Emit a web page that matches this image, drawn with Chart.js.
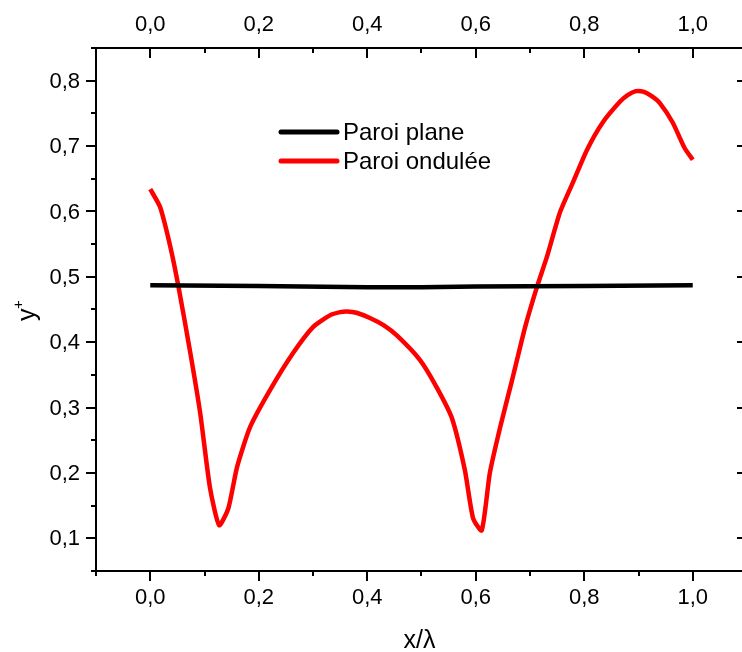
<!DOCTYPE html>
<html>
<head>
<meta charset="utf-8">
<script src="https://cdn.jsdelivr.net/npm/chart.js@4.4.0/dist/chart.umd.min.js"></script>
<style>
  html, body { margin: 0; padding: 0; background: #fff; overflow: hidden; }
  canvas { display: block; }
</style>
</head>
<body>
<canvas id="yplusChart" width="760" height="652"></canvas>
<script>
// Data
const seriesNames = ['Paroi plane', 'Paroi ondulée'];

const planeX = [0.0, 0.2, 0.4, 0.5, 0.6, 0.8, 1.0];
const planeY = [0.487, 0.486, 0.484, 0.484, 0.485, 0.486, 0.487];

const waveX = [0.000, 0.018, 0.037, 0.052, 0.074, 0.092, 0.110, 0.127, 0.144, 0.160,
               0.184, 0.221, 0.263, 0.300, 0.331, 0.350, 0.363, 0.380, 0.405, 0.430,
               0.455, 0.497, 0.528, 0.556, 0.580, 0.595, 0.611, 0.626, 0.645, 0.667,
               0.691, 0.713, 0.731, 0.755, 0.779, 0.805, 0.834, 0.866, 0.880, 0.895,
               0.910, 0.925, 0.939, 0.963, 0.985, 1.000];
const waveY = [0.634, 0.607, 0.546, 0.485, 0.383, 0.292, 0.178, 0.120, 0.146, 0.209,
               0.270, 0.327, 0.383, 0.423, 0.441, 0.446, 0.447, 0.445, 0.437, 0.426,
               0.410, 0.373, 0.331, 0.284, 0.204, 0.131, 0.112, 0.200, 0.270, 0.342,
               0.423, 0.485, 0.530, 0.598, 0.644, 0.694, 0.736, 0.768, 0.778, 0.784,
               0.783, 0.776, 0.766, 0.736, 0.697, 0.679];

// Axis ticks
const xMajorTicks = [0.0, 0.2, 0.4, 0.6, 0.8, 1.0];
const xMinorTicks = [-0.1, 0.1, 0.3, 0.5, 0.7, 0.9, 1.1];
const yMajorTicks = [0.1, 0.2, 0.3, 0.4, 0.5, 0.6, 0.7, 0.8];
const yMinorTicks = [0.05, 0.15, 0.25, 0.35, 0.45, 0.55, 0.65, 0.75, 0.85];

const FONT = '"Liberation Sans", Arial, sans-serif';
const fmt = v => v.toFixed(1).replace('.', ',');

const toPoints = (xs, ys) => xs.map((x, i) => ({ x: x, y: ys[i] }));

// Draws the Origin-style frame, ticks, labels, titles and legend
const originFrame = {
    id: 'originFrame',
    afterDraw(chart) {
        const c = chart.ctx;
        const a = chart.chartArea;
        const xs = chart.scales.x;
        const ys = chart.scales.y;
        c.save();
        c.strokeStyle = '#000';
        c.fillStyle = '#000';
        c.lineWidth = 2;
        c.lineCap = 'butt';

        // box
        c.beginPath();
        c.moveTo(a.left, a.top); c.lineTo(a.right, a.top);
        c.lineTo(a.right, a.bottom); c.lineTo(a.left, a.bottom);
        c.closePath();
        c.stroke();

        const major = 10, minor = 5;
        c.beginPath();
        xMajorTicks.concat(xMinorTicks).forEach(v => {
            const len = xMajorTicks.includes(v) ? major : minor;
            const px = Math.round(xs.getPixelForValue(v));
            c.moveTo(px, a.bottom); c.lineTo(px, a.bottom + len);
            c.moveTo(px, a.top); c.lineTo(px, a.top + len);
        });
        yMajorTicks.concat(yMinorTicks).forEach(v => {
            const len = yMajorTicks.includes(v) ? major : minor;
            const py = Math.round(ys.getPixelForValue(v));
            c.moveTo(a.left, py); c.lineTo(a.left - len, py);
            c.moveTo(a.right, py); c.lineTo(a.right - len, py);
        });
        c.stroke();

        // tick labels
        c.font = '22px ' + FONT;
        c.textAlign = 'center';
        c.textBaseline = 'middle';
        xMajorTicks.forEach(v => {
            const px = xs.getPixelForValue(v);
            c.fillText(fmt(v), px, a.bottom + 27);
            c.fillText(fmt(v), px, a.top - 23);
        });
        c.textAlign = 'right';
        yMajorTicks.forEach(v => {
            c.fillText(fmt(v), a.left - 16, ys.getPixelForValue(v) + 1);
        });

        // axis titles
        c.textAlign = 'center';
        c.textBaseline = 'alphabetic';
        c.font = '25px ' + FONT;
        c.fillText('x/\u03bb', (a.left + a.right) / 2 - 2, 648);

        c.save();
        c.translate(35, 321);
        c.rotate(-Math.PI / 2);
        c.textAlign = 'left';
        c.font = '25px ' + FONT;
        c.fillText('y', 0, 0);
        c.font = '15px ' + FONT;
        c.fillText('+', 12, -12);
        c.restore();

        // legend
        c.font = '24px ' + FONT;
        c.textAlign = 'left';
        c.textBaseline = 'middle';
        c.lineWidth = 5;
        c.lineCap = 'round';
        chart.data.datasets.forEach((ds, i) => {
            const ly = 132 + i * 29;
            c.strokeStyle = ds.borderColor;
            c.beginPath();
            c.moveTo(281, ly); c.lineTo(337, ly);
            c.stroke();
            c.fillText(ds.label, 343, ly + 1);
        });
        c.restore();
    }
};

const ctx = document.getElementById('yplusChart').getContext('2d');
const yplusChart = new Chart(ctx, {
    type: 'line',
    data: {
        datasets: [{
            label: seriesNames[0],
            data: toPoints(planeX, planeY),
            borderColor: '#000000',
            borderWidth: 4.5,
            pointRadius: 0,
            fill: false
        }, {
            label: seriesNames[1],
            data: toPoints(waveX, waveY),
            borderColor: '#ff0000',
            borderWidth: 4.5,
            pointRadius: 0,
            tension: 0.2,
            borderJoinStyle: 'round',
            fill: false
        }]
    },
    options: {
        responsive: false,
        animation: false,
        devicePixelRatio: 1,
        layout: {
            padding: { left: 96, right: 13, top: 48, bottom: 81 }
        },
        scales: {
            x: { type: 'linear', min: -0.1, max: 1.1, display: false },
            y: { type: 'linear', min: 0.05, max: 0.85, display: false }
        },
        plugins: {
            legend: { display: false },
            tooltip: { enabled: false }
        }
    },
    plugins: [originFrame]
});
</script>
</body>
</html>
